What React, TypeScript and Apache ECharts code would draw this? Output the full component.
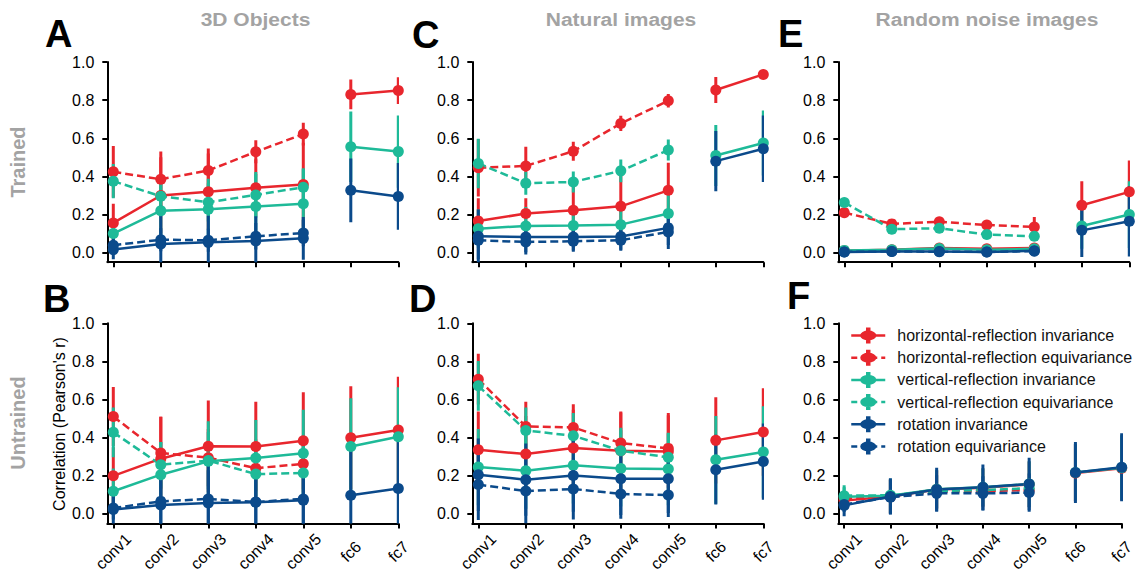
import React, { useEffect, useRef } from "react";
import * as echarts from "echarts";

const layers = ["conv1", "conv2", "conv3", "conv4", "conv5", "fc6", "fc7"];
const seriesNames = [
  "horizontal-reflection invariance",
  "horizontal-reflection equivariance",
  "vertical-reflection invariance",
  "vertical-reflection equivariance",
  "rotation invariance",
  "rotation equivariance",
];
const seriesColors = ["#E8262D", "#E8262D", "#1EBA98", "#1EBA98", "#0B4A8B", "#0B4A8B"];
const seriesDashed = [false, true, false, true, false, true];
const yTicks = [0, 0.2, 0.4, 0.6, 0.8, 1.0];
const xTicks = [0, 1, 2, 3, 4, 5, 6];
const columnTitles = ["3D Objects", "Natural images", "Random noise images"];
const rowLabels = ["Trained", "Untrained"];
const panelLetters = ["A", "C", "E", "B", "D", "F"];
const yAxisTitle = "Correlation (Pearson's r)";

// Panel A: trained, 3D objects  (order: hInv, hEqui, vInv, vEqui, rInv, rEqui)
const A_mean = [
  [0.156, 0.30, 0.32, 0.34, 0.357, 0.83, 0.85],
  [0.424, 0.385, 0.431, 0.529, 0.622],
  [0.10, 0.22, 0.228, 0.242, 0.257, 0.555, 0.53],
  [0.375, 0.296, 0.264, 0.303, 0.343],
  [0.016, 0.046, 0.054, 0.061, 0.075, 0.327, 0.295],
  [0.039, 0.068, 0.065, 0.086, 0.103],
];
const A_err = [
  [0.10, 0.2, 0.2, 0.15, 0.22, 0.078, 0.07],
  [0.135, 0.145, 0.115, 0.06, 0.06],
  [0.08, 0.15, 0.16, 0.17, 0.18, 0.185, 0.19],
  [0.09, 0.08, 0.1, 0.12, 0.1],
  [0.05, 0.2, 0.14, 0.13, 0.112, 0.167, 0.175],
  [0.04, 0.06, 0.06, 0.07, 0.07],
];
// Panel C: trained, natural images
const C_mean = [
  [0.166, 0.205, 0.222, 0.243, 0.327, 0.853, 0.935],
  [0.445, 0.455, 0.532, 0.678, 0.797],
  [0.126, 0.14, 0.142, 0.147, 0.205, 0.51, 0.575],
  [0.468, 0.364, 0.371, 0.429, 0.538],
  [0.086, 0.082, 0.082, 0.085, 0.13, 0.48, 0.545],
  [0.065, 0.056, 0.06, 0.065, 0.109],
];
const C_err = [
  [0.12, 0.08, 0.15, 0.17, 0.145, 0.068, 0.012],
  [0.15, 0.1, 0.05, 0.04, 0.035],
  [0.1, 0.1, 0.1, 0.1, 0.12, 0.16, 0.17],
  [0.13, 0.06, 0.055, 0.06, 0.055],
  [0.14, 0.08, 0.07, 0.07, 0.09, 0.158, 0.175],
  [0.1, 0.065, 0.055, 0.055, 0.09],
];
// Panel E: trained, random noise images
const E_mean = [
  [0.01, 0.015, 0.025, 0.02, 0.025, 0.249, 0.319],
  [0.21, 0.151, 0.162, 0.145, 0.135],
  [0.012, 0.015, 0.022, 0.015, 0.02, 0.14, 0.2],
  [0.263, 0.123, 0.128, 0.095, 0.086],
  [0.003, 0.006, 0.006, 0.004, 0.01, 0.117, 0.165],
  [0.004, 0.006, 0.005, 0.004, 0.008],
];
const E_err = [
  [0.01, 0.01, 0.01, 0.01, 0.01, 0.125, 0.165],
  [0.015, 0.015, 0.015, 0.015, 0.052],
  [0.01, 0.01, 0.01, 0.01, 0.01, 0.12, 0.175],
  [0.015, 0.015, 0.015, 0.015, 0.015],
  [0.01, 0.01, 0.01, 0.01, 0.01, 0.14, 0.185],
  [0.01, 0.01, 0.01, 0.01, 0.01],
];
// Panel B: untrained, 3D objects
const B_mean = [
  [0.2, 0.29, 0.355, 0.354, 0.384, 0.40, 0.44],
  [0.511, 0.32, 0.295, 0.24, 0.263],
  [0.119, 0.206, 0.276, 0.293, 0.319, 0.354, 0.405],
  [0.428, 0.258, 0.28, 0.209, 0.215],
  [0.023, 0.047, 0.058, 0.061, 0.072, 0.098, 0.133],
  [0.031, 0.066, 0.079, 0.063, 0.079],
];
const B_err = [
  [0.15, 0.22, 0.24, 0.235, 0.255, 0.27, 0.28],
  [0.155, 0.19, 0.15, 0.15, 0.15],
  [0.12, 0.17, 0.21, 0.2, 0.227, 0.253, 0.26],
  [0.13, 0.12, 0.15, 0.15, 0.15],
  [0.08, 0.18, 0.23, 0.23, 0.22, 0.24, 0.25],
  [0.06, 0.15, 0.15, 0.15, 0.15],
];
// Panel D: untrained, natural images
const D_mean = [
  [0.337, 0.314, 0.346, 0.332, 0.328, 0.386, 0.43],
  [0.707, 0.459, 0.454, 0.372, 0.344],
  [0.246, 0.227, 0.255, 0.239, 0.236, 0.284, 0.325],
  [0.672, 0.438, 0.41, 0.332, 0.297],
  [0.206, 0.18, 0.202, 0.185, 0.185, 0.232, 0.275],
  [0.154, 0.12, 0.131, 0.105, 0.099],
];
const D_err = [
  [0.2, 0.2, 0.2, 0.2, 0.19, 0.226, 0.23],
  [0.133, 0.13, 0.122, 0.165, 0.185],
  [0.2, 0.2, 0.2, 0.2, 0.19, 0.23, 0.24],
  [0.13, 0.12, 0.12, 0.12, 0.125],
  [0.19, 0.19, 0.19, 0.19, 0.18, 0.183, 0.2],
  [0.185, 0.17, 0.16, 0.13, 0.115],
];
// Panel F: untrained, random noise images
const F_mean = [
  [0.07, 0.092, 0.128, 0.138, 0.155, 0.215, 0.24],
  [0.082, 0.09, 0.118, 0.12, 0.125],
  [0.09, 0.095, 0.13, 0.14, 0.157, 0.218, 0.243],
  [0.096, 0.098, 0.12, 0.125, 0.135],
  [0.045, 0.092, 0.128, 0.14, 0.157, 0.218, 0.245],
  [0.05, 0.088, 0.108, 0.108, 0.112],
];
const F_err = [
  [0.04, 0.09, 0.1, 0.1, 0.12, 0.15, 0.17],
  [0.03, 0.03, 0.03, 0.03, 0.03],
  [0.05, 0.09, 0.1, 0.1, 0.12, 0.15, 0.17],
  [0.055, 0.03, 0.03, 0.03, 0.03],
  [0.057, 0.095, 0.115, 0.12, 0.138, 0.16, 0.178],
  [0.04, 0.09, 0.095, 0.09, 0.1],
];

const panelMeans = [A_mean, C_mean, E_mean, B_mean, D_mean, F_mean];
const panelErrs = [A_err, C_err, E_err, B_err, D_err, F_err];

const FONT = '"Liberation Sans", Arial, Helvetica, sans-serif';
const X_MIN = -0.1263;
const X_MAX = 6;
const Y_MIN = -0.05;
const Y_MAX = 1.0;
const colLeft = [107.3, 472.3, 838.3];
const rowTop = [62, 323.3];
const GRID_W = 291;
const GRID_H = 200.2;
const GRAY = "#a3a3a3";
const LEGEND_SYMBOL =
  "path://M5,3 A5,5 0 1,1 5,13 A5,5 0 1,1 5,3 Z M3.6,0 L6.4,0 L6.4,3.6 L3.6,3.6 Z M3.6,12.4 L6.4,12.4 L6.4,16 L3.6,16 Z";

function buildOption() {
  const grids: any[] = [];
  const xAxes: any[] = [];
  const yAxes: any[] = [];
  const series: any[] = [];

  for (let p = 0; p < 6; p++) {
    const row = p < 3 ? 0 : 1;
    const col = p % 3;
    grids.push({ left: colLeft[col], top: rowTop[row], width: GRID_W, height: GRID_H });
    xAxes.push({
      type: "value",
      gridIndex: p,
      min: X_MIN,
      max: X_MAX,
      axisLine: { show: true, onZero: false, lineStyle: { color: "#000", width: 2 } },
      axisTick: { show: true, customValues: xTicks, length: 5, lineStyle: { color: "#000", width: 2 } },
      axisLabel: {
        show: row === 1,
        customValues: xTicks,
        rotate: 45,
        align: "center",
        verticalAlign: "middle",
        margin: 28,
        fontSize: 16,
        fontFamily: FONT,
        color: "#000",
        formatter: (v: number) => layers[Math.round(v)] ?? "",
      },
      splitLine: { show: false },
    });
    yAxes.push({
      type: "value",
      gridIndex: p,
      min: Y_MIN,
      max: Y_MAX,
      axisLine: { show: true, onZero: false, lineStyle: { color: "#000", width: 2 } },
      axisTick: { show: true, customValues: yTicks, length: 5, lineStyle: { color: "#000", width: 2 } },
      axisLabel: {
        customValues: yTicks,
        margin: 13,
        fontSize: 16,
        fontFamily: FONT,
        color: "#000",
        formatter: (v: number) => v.toFixed(1),
      },
      splitLine: { show: false },
    });

    const means = panelMeans[p];
    const errs = panelErrs[p];
    for (let k = 0; k < 6; k++) {
      const m = means[k];
      const e = errs[k];
      const color = seriesColors[k];
      series.push({
        type: "custom",
        name: panelLetters[p] + " err " + seriesNames[k],
        xAxisIndex: p,
        yAxisIndex: p,
        clip: true,
        silent: true,
        z: 1,
        data: m.map((v, i) => [i, v - e[i], v + e[i]]),
        encode: { x: 0, y: [1, 2] },
        renderItem: (params: any, api: any) => {
          const x = api.value(0);
          const a = api.coord([x, api.value(1)]);
          const b = api.coord([x, api.value(2)]);
          return {
            type: "line",
            shape: { x1: a[0], y1: a[1], x2: b[0], y2: b[1] },
            style: { stroke: color, lineWidth: 3 },
          };
        },
      });
    }
    for (let k = 0; k < 6; k++) {
      const m = means[k];
      const color = seriesColors[k];
      const data: any[] = [];
      m.forEach((v, i) => {
        if (i === 5) data.push([4.5, "-"]);
        data.push([i, v]);
      });
      series.push({
        type: "line",
        name: panelLetters[p] + " " + seriesNames[k],
        xAxisIndex: p,
        yAxisIndex: p,
        z: 2,
        data,
        symbol: "circle",
        symbolSize: 11,
        showSymbol: true,
        connectNulls: false,
        itemStyle: { color },
        lineStyle: { color, width: 2.5, type: seriesDashed[k] ? [8, 4] : "solid" },
        emphasis: { disabled: true },
      });
    }
  }

  // legend-only series (panel F), icon = marker with error bar
  for (let k = 0; k < 6; k++) {
    series.push({
      type: "line",
      name: seriesNames[k],
      xAxisIndex: 5,
      yAxisIndex: 5,
      data: [],
      symbol: LEGEND_SYMBOL,
      itemStyle: { color: seriesColors[k] },
      lineStyle: { color: seriesColors[k], width: 2.5, type: seriesDashed[k] ? [6, 4] : "solid" },
    });
  }

  const graphic: any[] = [];
  const titleX = [255.5, 621, 987];
  columnTitles.forEach((t, i) => {
    graphic.push({
      type: "text",
      x: titleX[i],
      y: 20,
      scaleY: 0.86,
      style: { text: t, font: `bold 21px ${FONT}`, fill: GRAY, align: "center", verticalAlign: "middle" },
    });
  });
  const letterX = [45, 412, 778, 43, 409, 787];
  const letterY = [34, 35, 34, 298.5, 298.5, 296];
  panelLetters.forEach((l, i) => {
    graphic.push({
      type: "text",
      x: letterX[i],
      y: letterY[i],
      style: { text: l, font: `bold 38px ${FONT}`, fill: "#000", align: "left", verticalAlign: "middle" },
    });
  });
  const rowY = [162, 423];
  rowLabels.forEach((t, i) => {
    graphic.push({
      type: "text",
      x: 18,
      y: rowY[i],
      rotation: Math.PI / 2,
      style: { text: t, font: `bold 20px ${FONT}`, fill: GRAY, align: "center", verticalAlign: "middle" },
    });
  });
  graphic.push({
    type: "text",
    x: 59,
    y: 424,
    rotation: Math.PI / 2,
    style: { text: yAxisTitle, font: `16px ${FONT}`, fill: "#000", align: "center", verticalAlign: "middle" },
  });

  return {
    animation: false,
    backgroundColor: "#fff",
    textStyle: { fontFamily: FONT },
    grid: grids,
    xAxis: xAxes,
    yAxis: yAxes,
    legend: {
      data: seriesNames,
      orient: "vertical",
      left: 845,
      top: 322.5,
      itemWidth: 34,
      itemHeight: 20,
      itemGap: 6.2,
      selectedMode: false,
      symbolKeepAspect: true,
      lineStyle: { width: 2.5 },
      textStyle: { fontSize: 16, color: "#111", fontFamily: FONT, padding: [0, 0, 0, 7] },
    },
    graphic,
    series,
  };
}

export default function App() {
  const ref = useRef<HTMLDivElement>(null);
  useEffect(() => {
    if (!ref.current) return;
    const chart = echarts.init(ref.current, undefined, { renderer: "svg" });
    chart.setOption(buildOption() as any);
    return () => chart.dispose();
  }, []);
  return (
    <div
      ref={ref}
      style={{ position: "fixed", left: 0, top: 0, width: 1137, height: 579, background: "#fff" }}
    />
  );
}
